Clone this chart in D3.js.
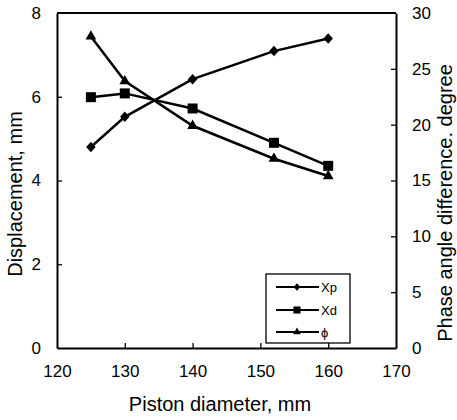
<!DOCTYPE html>
<html>
<head>
<meta charset="utf-8" />
<script src="https://d3js.org/d3.v7.min.js"></script>
<style>
body { margin: 0; background: #fff; }
text { font-family: Arial, "Liberation Sans", sans-serif; fill: #000; }
.title { font-size: 20px; }
.legend text { font-size: 13px; }
</style>
</head>
<body>
<script>
// data
var diameters = [125, 130, 140, 152, 160];
var xp = [4.8, 5.52, 6.42, 7.09, 7.39];
var xd = [5.99, 6.08, 5.72, 4.9, 4.35];
var phi = [27.9, 23.9, 19.9, 16.95, 15.4];
var xTicks = [120, 130, 140, 150, 160, 170];
var yLeftTicks = [0, 2, 4, 6, 8];
var yRightTicks = [0, 5, 10, 15, 20, 25, 30];

var W = 457, H = 420;
var pLeft = 57, pRight = 396, pTop = 13, pBottom = 348;

var svg = d3.select("body").append("svg")
    .attr("width", W).attr("height", H);

var x = d3.scaleLinear().domain([120, 170]).range([pLeft, pRight]);
var yL = d3.scaleLinear().domain([0, 8]).range([pBottom, pTop]);
var yR = d3.scaleLinear().domain([0, 30]).range([pBottom, pTop]);

// axes, ticks pointing inward
var gx = svg.append("g").attr("transform", "translate(0," + pBottom + ")")
    .call(d3.axisBottom(x).tickValues(xTicks).tickSize(-5).tickPadding(17).tickSizeOuter(0));
var gl = svg.append("g").attr("transform", "translate(" + pLeft + ",0)")
    .call(d3.axisLeft(yL).tickValues(yLeftTicks).tickSize(-5).tickPadding(16).tickSizeOuter(0));
var gr = svg.append("g").attr("transform", "translate(" + pRight + ",0)")
    .call(d3.axisRight(yR).tickValues(yRightTicks).tickSize(-5).tickPadding(16).tickSizeOuter(0));
[gx, gl, gr].forEach(function(g) {
  g.select(".domain").attr("stroke", "#000").attr("stroke-width", 2);
  g.selectAll(".tick line").attr("stroke", "#000").attr("stroke-width", 1.3);
  g.selectAll(".tick text").attr("fill", "#000")
    .style("font-size", "17px").style("font-family", "Arial, 'Liberation Sans', sans-serif");
});
// hide end ticks that sit on the frame
gx.selectAll(".tick line").filter(function(d) { return d == 120 || d == 170; }).remove();
gl.selectAll(".tick line").filter(function(d) { return d == 0 || d == 8; }).remove();
gr.selectAll(".tick line").filter(function(d) { return d == 0 || d == 30; }).remove();

// top frame line
svg.append("line").attr("x1", pLeft).attr("x2", pRight).attr("y1", pTop).attr("y2", pTop)
  .attr("stroke", "#000").attr("stroke-width", 2);

// axis titles
svg.append("text").attr("class", "title")
  .attr("x", 220).attr("y", 411).attr("text-anchor", "middle")
  .text("Piston diameter, mm");
svg.append("text").attr("class", "title")
  .attr("transform", "translate(22,194) rotate(-90)")
  .attr("text-anchor", "middle").text("Displacement, mm");
svg.append("text").attr("class", "title")
  .attr("transform", "translate(452,203) rotate(-90)")
  .attr("text-anchor", "middle").text("Phase angle difference. degree");

// rhombus marker, a bit taller than wide
var rhombus = {
  draw: function(ctx, size) {
    var r = Math.sqrt(size / 2);
    ctx.moveTo(0, -r * 1.05);
    ctx.lineTo(r * 0.95, 0);
    ctx.lineTo(0, r * 1.05);
    ctx.lineTo(-r * 0.95, 0);
    ctx.closePath();
  }
};

var series = [
  { name: "Xp", vals: xp, y: yL, sym: rhombus, size: 50 },
  { name: "Xd", vals: xd, y: yL, sym: d3.symbolSquare, size: 100 },
  { name: "\u03d5", vals: phi, y: yR, sym: d3.symbolTriangle, size: 50 }
];

series.forEach(function(s) {
  var line = d3.line()
    .x(function(d, i) { return x(diameters[i]); })
    .y(function(d) { return s.y(d); });
  svg.append("path").datum(s.vals)
    .attr("d", line).attr("fill", "none")
    .attr("stroke", "#000").attr("stroke-width", 2.5);
  svg.selectAll(null).data(s.vals).enter().append("path")
    .attr("transform", function(d, i) {
      return "translate(" + x(diameters[i]) + "," + s.y(d) + ")"; })
    .attr("d", d3.symbol().type(s.sym).size(s.size))
    .attr("fill", "#000");
});

// legend
var lg = svg.append("g").attr("class", "legend");
lg.append("rect").attr("x", 266).attr("y", 274).attr("width", 84).attr("height", 69)
  .attr("fill", "#fff").attr("stroke", "#000").attr("stroke-width", 1.3);
var rows = [287, 310, 332];
series.forEach(function(s, i) {
  lg.append("line").attr("x1", 276).attr("x2", 319).attr("y1", rows[i]).attr("y2", rows[i])
    .attr("stroke", "#000").attr("stroke-width", 2.2);
  lg.append("path").attr("transform", "translate(297," + rows[i] + ")")
    .attr("d", d3.symbol().type(s.sym).size(s.size * 0.5)).attr("fill", "#000");
  lg.append("text").attr("x", 321).attr("y", rows[i] + 5).text(s.name);
});
</script>
</body>
</html>
